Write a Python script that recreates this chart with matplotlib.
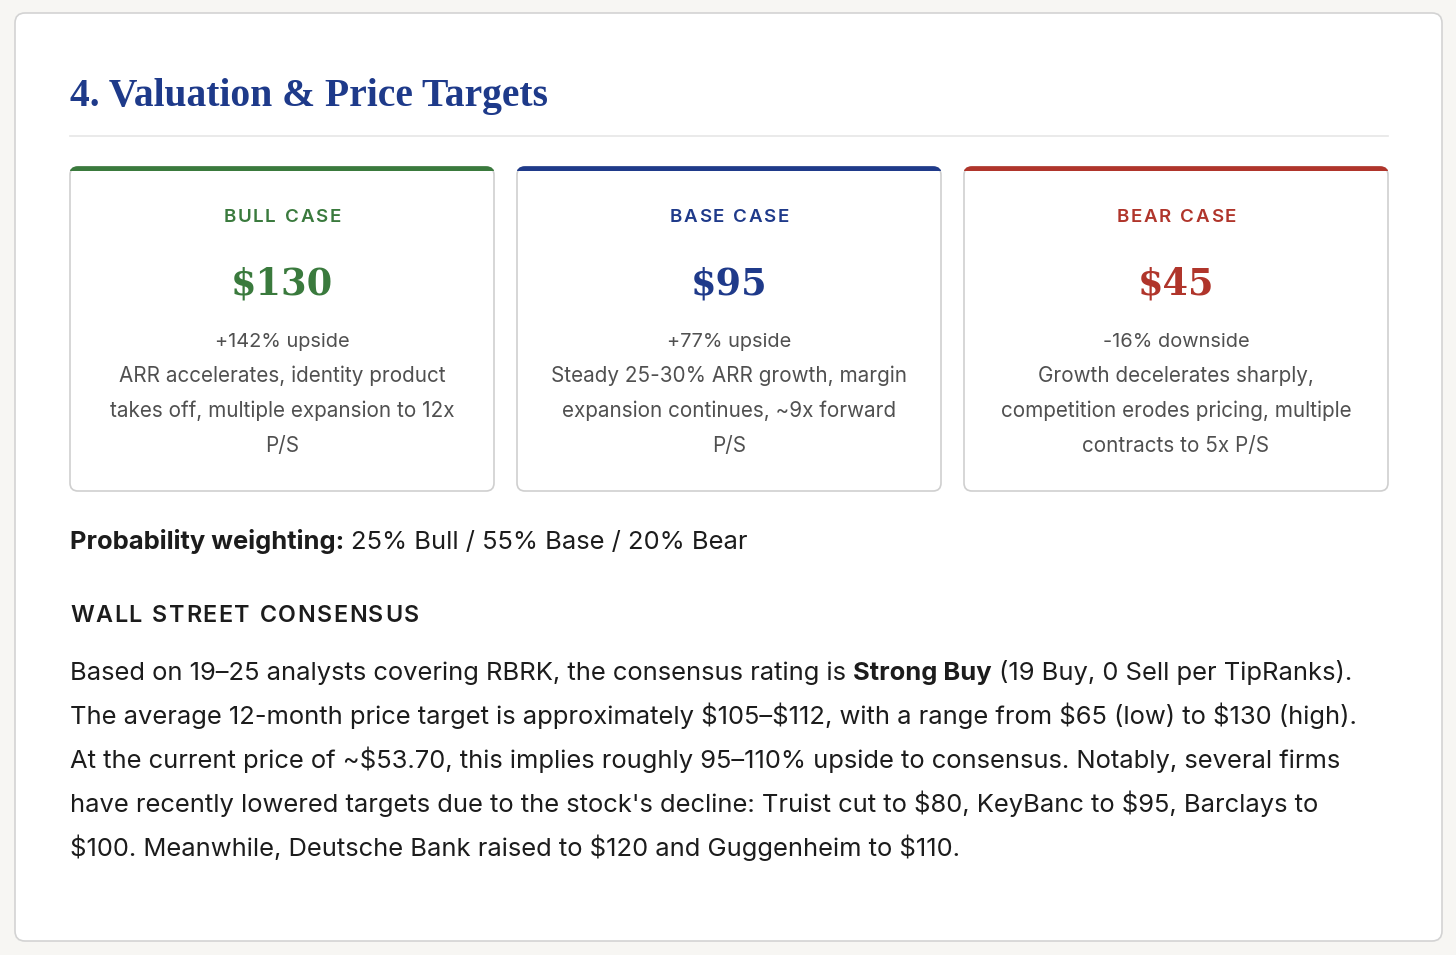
import matplotlib
matplotlib.use('Agg')
import matplotlib.pyplot as plt
from matplotlib.patches import FancyBboxPatch, Rectangle

plt.rcParams['text.parse_math'] = False

# --- content ---
title = '4. Valuation & Price Targets'
cases = ['BULL CASE', 'BASE CASE', 'BEAR CASE']
targets = [130, 95, 45]
moves = ['+142% upside', '+77% upside', '-16% downside']
theses = [
    ['ARR accelerates, identity product', 'takes off, multiple expansion to 12x', 'P/S'],
    ['Steady 25-30% ARR growth, margin', 'expansion continues, ~9x forward', 'P/S'],
    ['Growth decelerates sharply,', 'competition erodes pricing, multiple', 'contracts to 5x P/S'],
]
case_colors = ['#3a7a3d', '#1f3a8a', '#b0352b']
prob_names = ['Bull', 'Base', 'Bear']
prob_weights = [25, 55, 20]
consensus_head = 'WALL STREET CONSENSUS'
# each line is a list of (text, bold?)
consensus_lines = [
    [('Based on 19\u201325 analysts covering RBRK, the consensus rating is ', False),
     ('Strong Buy', True), (' (19 Buy, 0 Sell per TipRanks).', False)],
    [('The average 12-month price target is approximately $105\u2013$112, with a range from $65 (low) to $130 (high).', False)],
    [('At the current price of ~$53.70, this implies roughly 95\u2013110% upside to consensus. Notably, several firms', False)],
    [("have recently lowered targets due to the stock's decline: Truist cut to $80, KeyBanc to $95, Barclays to", False)],
    [('$100. Meanwhile, Deutsche Bank raised to $120 and Guggenheim to $110.', False)],
]

BODY = 'Inter'
SERIF = 'Liberation Serif'
INK = '#1c1c1c'
GREY = '#505050'
NAVY = '#1e3a8a'
BODY_PT = 18.4

W, H = 1456, 955
fig = plt.figure(figsize=(W / 100, H / 100), dpi=100)
fig.patch.set_facecolor('#f7f6f3')
ax = fig.add_axes([0, 0, 1, 1])
ax.set_xlim(0, W)
ax.set_ylim(H, 0)
ax.axis('off')
fig.canvas.draw()
rend = fig.canvas.get_renderer()


def text_w(s, **kw):
    t = ax.text(0, 0, s, **kw)
    w = t.get_window_extent(renderer=rend).width
    t.remove()
    return w


def spaced(xc, y, s, spacing, ha='center', **kw):
    # draw text letter by letter to get tracking
    widths = [text_w(c if c != ' ' else 'a', **kw) * (0.55 if c == ' ' else 1) for c in s]
    total = sum(widths) + spacing * (len(s) - 1)
    x = xc - total / 2 if ha == 'center' else xc
    for c, w in zip(s, widths):
        if c != ' ':
            ax.text(x, y, c, va='baseline', ha='left', **kw)
        x += w + spacing


def runs(x, y, parts, size):
    sp = text_w('a a', fontsize=size, family=BODY) - text_w('aa', fontsize=size, family=BODY)
    for txt, bold in parts:
        kw = dict(fontsize=size, family=BODY, color=INK, fontweight='bold' if bold else 'normal')
        lead = len(txt) - len(txt.lstrip(' '))
        trail = len(txt) - len(txt.rstrip(' '))
        x += lead * sp
        t = ax.text(x, y, txt.strip(' '), va='baseline', ha='left', **kw)
        x += t.get_window_extent(renderer=rend).width + trail * sp
    return x


# outer panel
ax.add_patch(FancyBboxPatch((15, 13), 1427, 928, boxstyle='round,pad=0,rounding_size=10',
                            fc='white', ec='#d3d3d3', lw=1.2))

# title + rule
ax.text(70, 106, title, family=SERIF, fontweight='bold', fontsize=28.5, color=NAVY, va='baseline')
ax.plot([70, 1388], [136, 136], color='#e6e6e6', lw=1.2)

# scenario cards
card_x = [70, 517, 964]
card_w, card_top, card_h = 424, 167, 324
for i, name in enumerate(cases):
    x0 = card_x[i]
    col = case_colors[i]
    ax.add_patch(FancyBboxPatch((x0, card_top), card_w, card_h, boxstyle='round,pad=0,rounding_size=8',
                                fc='white', ec='#cfcfcf', lw=1.2))
    top = FancyBboxPatch((x0, card_top), card_w, card_h, boxstyle='round,pad=0,rounding_size=8',
                         fc=col, ec=col, lw=1.2)
    ax.add_patch(top)
    top.set_clip_path(Rectangle((x0 - 2, card_top - 2), card_w + 4, 6.5, transform=ax.transData))
    xc = x0 + card_w / 2
    spaced(xc, 222, name, 1.6, family=BODY, fontsize=13.5, fontweight='semibold', color=col)
    ax.text(xc, 294, f'${targets[i]}', family='DejaVu Serif', fontweight='bold', fontsize=26.5, color=col,
            ha='center', va='baseline')
    ax.text(xc, 347, moves[i], family=BODY, fontsize=14.4, color=GREY, ha='center', va='baseline')
    for j, line in enumerate(theses[i]):
        ax.text(xc, 382 + 35 * j, line, family=BODY, fontsize=14.9, color=GREY, ha='center', va='baseline')

# probability weighting
prob_txt = ' / '.join(f'{w}% {n}' for w, n in zip(prob_weights, prob_names))
runs(70, 549, [('Probability weighting: ', True), (prob_txt, False)], BODY_PT)

# consensus block
spaced(70, 622, consensus_head, 1.5, ha='left', family=BODY, fontsize=16.8, fontweight='semibold', color=INK)
for k, parts in enumerate(consensus_lines):
    runs(70, 680 + 44 * k, parts, BODY_PT)

fig.savefig('out.png', dpi=100, facecolor=fig.get_facecolor())
